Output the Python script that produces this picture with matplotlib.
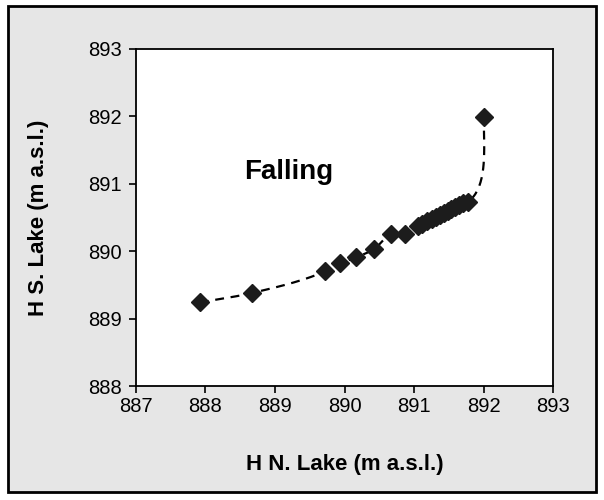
import numpy as np
import matplotlib.pyplot as plt
from matplotlib.patches import Rectangle

plt.rcParams['font.family'] = ['Liberation Sans', 'DejaVu Sans']

# Water level of the north lake vs. south lake during falling stage
h_north = [887.92, 888.67, 889.72, 889.94, 890.17, 890.42, 890.67, 890.87,
           891.05, 891.12, 891.18, 891.25, 891.31, 891.37, 891.43, 891.48,
           891.53, 891.59, 891.64, 891.70, 891.77, 892.00]
h_south = [889.24, 889.38, 889.70, 889.82, 889.91, 890.03, 890.25, 890.25,
           890.37, 890.41, 890.45, 890.48, 890.51, 890.54, 890.57, 890.60,
           890.62, 890.65, 890.68, 890.71, 890.73, 891.99]

x_ticks = [887, 888, 889, 890, 891, 892, 893]
y_ticks = [888, 889, 890, 891, 892, 893]


def smooth_curve(xs, ys, n=40):
    # chord-weighted cubic Hermite spline through the points; the north level
    # tops out at the last point, so the curve arrives there vertically
    p = np.column_stack([xs, ys]).astype(float)
    d = np.diff(p, axis=0)
    h = np.hypot(d[:, 0], d[:, 1])
    u = d / h[:, None]
    v = np.zeros_like(p)
    w0, w1 = h[:-1] ** 0.25, h[1:] ** 0.25
    v[1:-1] = (w1[:, None] * u[:-1] + w0[:, None] * u[1:]) / (w0 + w1)[:, None]
    v[0] = u[0]
    v[-1] = [0.0, 1.0]
    t = np.linspace(0, 1, n)[:, None]
    h00 = 2 * t**3 - 3 * t**2 + 1
    h10 = t**3 - 2 * t**2 + t
    h01 = -2 * t**3 + 3 * t**2
    h11 = t**3 - t**2
    segs = [h00 * p[i] + h10 * v[i] * h[i] + h01 * p[i + 1] + h11 * v[i + 1] * h[i]
            for i in range(len(p) - 1)]
    out = np.vstack(segs)
    return out[:, 0], out[:, 1]


fig = plt.figure(figsize=(6.04, 5.0), dpi=100)
fig.patch.set_facecolor('white')
fig.patches.append(Rectangle((0.014, 0.016), 0.973, 0.972, transform=fig.transFigure,
                             facecolor='#e6e6e6', edgecolor='black', linewidth=2, zorder=-1))

ax = fig.add_axes([0.225, 0.228, 0.691, 0.674])
ax.set_facecolor('white')

cx, cy = smooth_curve(h_north, h_south)
ax.plot(cx, cy, color='black', linestyle=(0, (4, 3)), linewidth=1.6, zorder=2)
ax.plot(h_north, h_south, linestyle='none', marker='D', markersize=9.5,
        color='#1c1c1c', zorder=3)

ax.set_xlim(887, 893)
ax.set_ylim(888, 893)
ax.set_xticks(x_ticks)
ax.set_yticks(y_ticks)
ax.tick_params(direction='out', length=5, width=1.2, labelsize=14.5, pad=3)
ax.tick_params(axis='y', pad=5)
for s in ax.spines.values():
    s.set_linewidth(1.3)

ax.set_xlabel('H N. Lake (m a.s.l.)', fontsize=16, fontweight='bold', labelpad=27)
ax.set_ylabel('H S. Lake (m a.s.l.)', fontsize=16, fontweight='bold', labelpad=28)

ax.text(888.55, 891.17, 'Falling', fontsize=20, fontweight='bold', va='center')

fig.savefig('out.png', dpi=100)
